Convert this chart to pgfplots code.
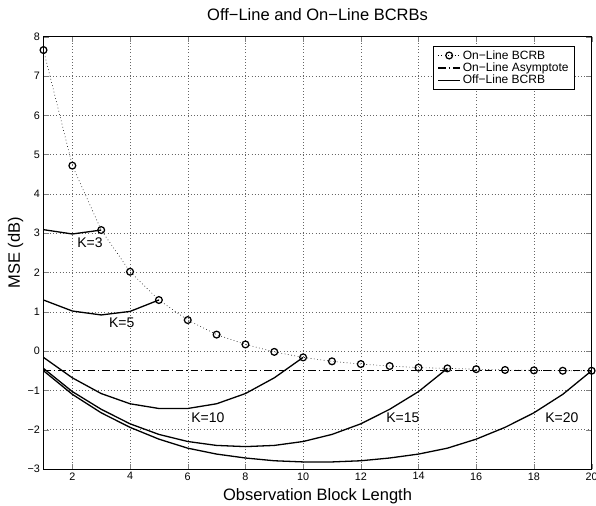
\documentclass[border=0pt]{standalone}
\usepackage{fontspec}
\setmainfont{Liberation Sans}
\usepackage{pgfplots}
\pgfplotsset{compat=1.18}

\begin{document}
\begin{tikzpicture}
\begin{axis}[
scale only axis,
width=548.1pt,
height=432.3pt,
xmin=1, xmax=20,
ymin=-3, ymax=8,
xtick={2,4,...,20},
ytick={-3,-2,...,8},
yticklabels={−3,−2,−1,0,1,2,3,4,5,6,7,8},
/pgf/number format/assume math mode=true,
tick label style={font=\fontsize{10.8}{12}\selectfont},
tick align=inside,
major tick length=5.5pt,
axis line style={line width=0.8pt},
xmajorgrids, ymajorgrids,
major grid style={black!60, line width=0.45pt, dash pattern=on 0.6pt off 2.6pt},
clip=false,
title={Off−Line and On−Line BCRBs},
title style={font=\fontsize{16.5}{19}\selectfont, at={(0.5,1)}, anchor=base, yshift=10pt},
xlabel={Observation Block Length},
xlabel style={font=\fontsize{16.5}{19}\selectfont, at={(0.5,0)}, anchor=base, yshift=-31.7pt},
ylabel={MSE (dB)},
ylabel style={font=\fontsize{16.5}{19}\selectfont, at={(0,0.5)}, anchor=base, yshift=23.5pt},
legend image code/.code={\draw[mark repeat=2,mark phase=2,#1] plot coordinates {(0pt,0pt) (11pt,0pt) (22pt,0pt)};},
legend style={at={(0.9697,0.9785)}, anchor=north east, draw=black, line width=0.8pt,
  font=\fontsize{12}{13.5}\selectfont, cells={anchor=west}, row sep=-1.8pt,
  inner xsep=4pt, inner ysep=2pt},
]
\coordinate (sw) at (rel axis cs:0,0);
\coordinate (ne) at (rel axis cs:1,1);

% on-line BCRB
\addplot[black, line width=0.6pt, dash pattern=on 0.7pt off 2.6pt, mark=o, mark size=3.4pt,
  mark options={solid, line width=1.25pt}]
coordinates{
(1,7.66) (2,4.72) (3,3.08) (4,2.02) (5,1.30) (6,0.79) (7,0.42) (8,0.17) (9,-0.02) (10,-0.16)
(11,-0.26) (12,-0.33) (13,-0.38) (14,-0.42) (15,-0.44) (16,-0.46) (17,-0.48) (18,-0.49) (19,-0.50) (20,-0.50)
};

% on-line asymptote
\addplot[black, line width=1.4pt, dash pattern=on 7.5pt off 3pt on 1.2pt off 3pt]
coordinates{(1,-0.5) (20,-0.5)};

% off-line BCRB, K=3,5,10,15,20
\addplot[black, line width=1.3pt]
coordinates{(1,3.09) (2,2.98) (3,3.08)};

\addplot[black, line width=1.3pt]
coordinates{(1,1.30) (2,1.02) (3,0.92) (4,1.01) (5,1.30)};

\addplot[black, line width=1.3pt]
coordinates{
(1,-0.16) (2,-0.68) (3,-1.08) (4,-1.34) (5,-1.46) (6,-1.46) (7,-1.34) (8,-1.08) (9,-0.68) (10,-0.16)
};

\addplot[black, line width=1.3pt]
coordinates{
(1,-0.44) (2,-1.03) (3,-1.48) (4,-1.85) (5,-2.12) (6,-2.30) (7,-2.40) (8,-2.43)
(9,-2.40) (10,-2.30) (11,-2.12) (12,-1.85) (13,-1.48) (14,-1.03) (15,-0.44)
};

\addplot[black, line width=1.3pt]
coordinates{
(1,-0.50) (2,-1.10) (3,-1.57) (4,-1.94) (5,-2.24) (6,-2.47) (7,-2.62) (8,-2.72) (9,-2.79) (10,-2.82)
(11,-2.82) (12,-2.79) (13,-2.72) (14,-2.62) (15,-2.47) (16,-2.24) (17,-1.94) (18,-1.57) (19,-1.10) (20,-0.50)
};

\legend{On−Line BCRB, On−Line Asymptote, Off−Line BCRB}

\begin{scope}[font=\fontsize{14}{16}\selectfont]
\node at (axis cs:2.61,2.75) {K=3};
\node at (axis cs:3.71,0.71) {K=5};
\node at (axis cs:6.70,-1.70) {K=10};
\node at (axis cs:13.46,-1.70) {K=15};
\node at (axis cs:18.97,-1.70) {K=20};
\end{scope}
\end{axis}
\pgfresetboundingbox
\path[use as bounding box] ([xshift=-43.5pt,yshift=-36pt]sw) rectangle ([xshift=4.4pt,yshift=36.7pt]ne);
\end{tikzpicture}
\end{document}
